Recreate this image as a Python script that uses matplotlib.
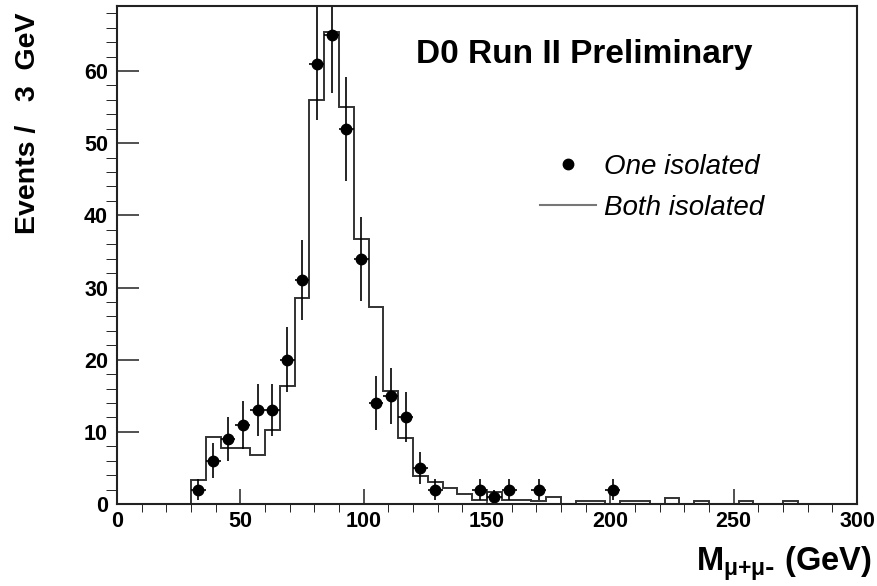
import numpy as np
import matplotlib.pyplot as plt
from matplotlib.lines import Line2D
from matplotlib.ticker import MultipleLocator

plt.rcParams['font.family'] = ['Liberation Sans', 'DejaVu Sans']
plt.rcParams['font.weight'] = 'bold'
plt.rcParams['axes.labelweight'] = 'bold'
plt.rcParams['mathtext.default'] = 'regular'

# "Both isolated" histogram: 6 GeV bins from 30 to 300 GeV
bin_edges = np.arange(30, 301, 6)
both_isolated = [3.3, 9.3, 7.7, 7.7, 6.8, 10.25, 16.4, 28.5, 56.0, 65.4,
                 55.0, 36.7, 27.3, 15.6, 9.2, 3.9, 3.1, 2.2, 1.4, 0.6,
                 1.6, 0.6, 0.6, 0.35, 1.0, 0.0, 0.35, 0.35, 0.0, 0.35,
                 0.35, 0.0, 0.9, 0.0, 0.35, 0.0, 0.0, 0.35, 0.0, 0.0,
                 0.35, 0.0, 0.0, 0.0, 0.0]

# "One isolated" data points (bin centres, counts)
mass_points = [33, 39, 45, 51, 57, 63, 69, 75, 81, 87, 93, 99, 105, 111,
               117, 123, 129, 147, 153, 159, 171, 201]
one_isolated = [2, 6, 9, 11, 13, 13, 20, 31, 61, 65, 52, 34, 14, 15,
                12, 5, 2, 2, 1, 2, 2, 2]

fig = plt.figure(figsize=(8.77, 5.86), dpi=100)
ax = fig.add_axes([0.1334, 0.1399, 0.8438, 0.8498])

ax.stairs(both_isolated, bin_edges, color='#333333', lw=1.4)
ax.errorbar(mass_points, one_isolated, yerr=np.sqrt(one_isolated), xerr=3,
            fmt='o', color='black', ms=7.5, elinewidth=1.2, capsize=0)

ax.set_xlim(0, 300)
ax.set_ylim(0, 69)

ax.xaxis.set_major_locator(MultipleLocator(50))
ax.xaxis.set_minor_locator(MultipleLocator(10))
ax.yaxis.set_major_locator(MultipleLocator(10))
ax.yaxis.set_minor_locator(MultipleLocator(2))
ax.tick_params(direction='in', top=False, right=False, labelsize=15.5, width=1.1, color='#222222')
ax.tick_params(axis='y', which='major', length=16, pad=6.5)
ax.tick_params(axis='y', which='minor', length=8)
ax.tick_params(axis='x', which='major', length=10.5, pad=5)
ax.tick_params(axis='x', which='minor', length=5.4)
for sp in ax.spines.values():
    sp.set_linewidth(1.5)
    sp.set_color('#222222')

ax.set_ylabel('Events /   3  GeV', fontsize=20.5, loc='top')
ax.yaxis.set_label_coords(-0.103, 0.988)
ax.set_xlabel(r'M$_{\mathregular{\mu{+}\mu\text{-}}}$ (GeV)', fontsize=23.5, loc='right')
ax.xaxis.label.set_va('baseline')
ax.xaxis.set_label_coords(1.0203, -0.1345)

ax.text(0.631, 0.8855, 'D0 Run II Preliminary', transform=ax.transAxes,
        ha='center', va='baseline', fontsize=24)

handles = [Line2D([], [], marker='o', ls='none', color='black', ms=7.5),
           Line2D([], [], color='#777777', lw=1.5)]
ax.legend(handles, ['One isolated', 'Both isolated'], loc='upper left',
          bbox_to_anchor=(0.5716, 0.703), frameon=False,
          prop={'style': 'italic', 'weight': 'normal', 'size': 20},
          handlelength=2.0, handletextpad=0.3, labelspacing=0.55,
          borderpad=0, borderaxespad=0)

fig.savefig('out.png', dpi=100, facecolor='white')
